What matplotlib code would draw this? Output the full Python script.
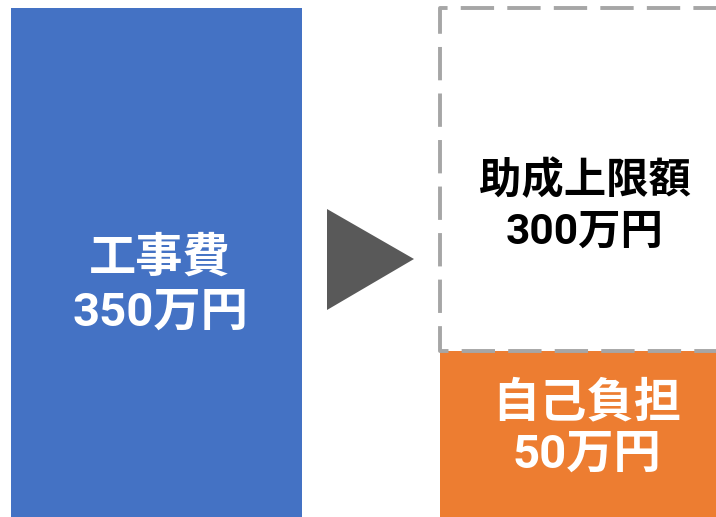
import matplotlib
matplotlib.use("Agg")
import matplotlib.pyplot as plt
from matplotlib.patches import Rectangle, Polygon

plt.rcParams['font.family'] = ['Noto Sans CJK JP', 'DejaVu Sans']
plt.rcParams['lines.scale_dashes'] = False

# data
labels = ["工事費", "助成上限額", "自己負担"]
amounts = [350, 300, 50]
unit = "万円"
colors = ["#4472C4", "#FFFFFF", "#ED7D31"]
text_colors = ["white", "black", "white"]

fig = plt.figure(figsize=(7.16, 5.17), dpi=100)
ax = fig.add_axes([0, 0, 1, 1])
ax.set_xlim(0, 716)
ax.set_ylim(517, 0)
ax.axis("off")

# 工事費 box
ax.add_patch(Rectangle((11, 8), 291, 515, color=colors[0], lw=0))

# arrow
ax.add_patch(Polygon([(327, 209), (327, 310), (414, 259)], closed=True,
                     color="#595959", lw=0))

# 自己負担 box
ax.add_patch(Rectangle((440, 351), 280, 170, color=colors[2], lw=0))

# 助成上限額 dashed box (open to the right)
ax.plot([740, 440, 440, 740], [8, 8, 351, 351], color="#A6A6A6", lw=2.8,
        linestyle=(7, (24, 9.5)), solid_capstyle="butt")

boxes = [(160, 258, 313, 34), (585, 181, 232, 30.5), (587, 402, 455, 34)]
for i, (x, y1, y2, fs) in enumerate(boxes):
    ax.text(x, y1, labels[i], ha="center", va="center", fontsize=fs,
            fontweight="bold", color=text_colors[i])
    ax.text(x, y2, f"{amounts[i]}{unit}", ha="center", va="center", fontsize=fs,
            fontweight="bold", color=text_colors[i],
            family=['Roboto', 'Noto Sans CJK JP'])

fig.savefig("out.png", dpi=100)
